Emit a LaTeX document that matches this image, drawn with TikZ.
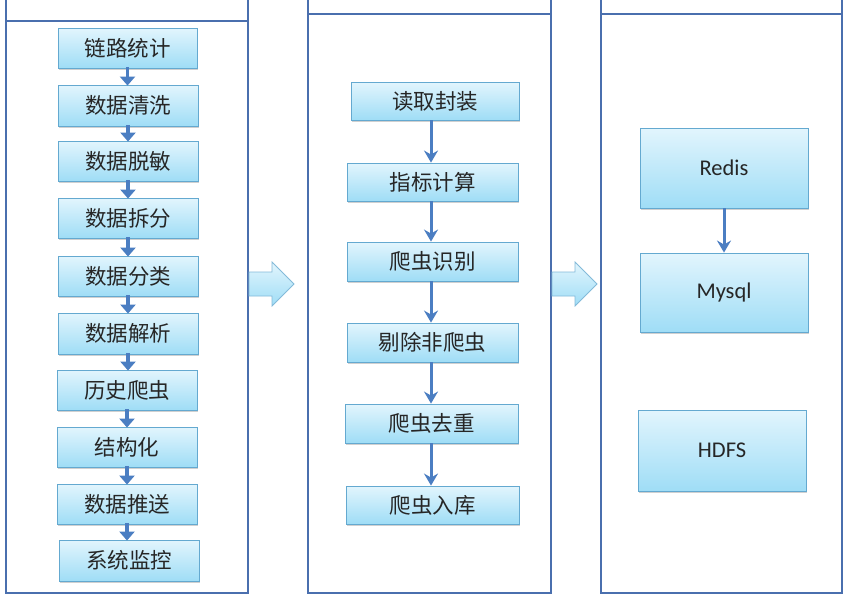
\documentclass[tikz,border=0pt]{standalone}
\usepackage{fontspec}
\setmainfont{Carlito}
\newfontfamily\cjk{Noto Sans CJK SC}
\usetikzlibrary{arrows.meta,shadows}
\definecolor{panelc}{HTML}{4A6FAE}
\definecolor{boxtop}{HTML}{E2F5FD}
\definecolor{boxbot}{HTML}{9FDDF6}
\definecolor{boxdraw}{HTML}{64A9D0}
\definecolor{arrc}{HTML}{4B7EC2}
\definecolor{txtc}{HTML}{262626}
\tikzset{
  panel/.style={draw=panelc, line width=2.2pt},
  stepbox/.style={draw=boxdraw, line width=0.9pt, top color=boxtop, bottom color=boxbot,
    drop shadow={shadow xshift=1.2pt, shadow yshift=-1.8pt, opacity=0.3, fill=black!60},
    text=txtc, inner sep=0pt},
  cnlabel/.style={font=\cjk\fontsize{21.5}{24}\selectfont},
  enlabel/.style={font=\fontsize{22.5}{25}\selectfont},
  shortarr/.style={draw=arrc, line width=3.5pt, -{Triangle[width=15pt,length=9pt]}, shorten >=-1pt, shorten <=-1pt},
  longarr/.style={draw=arrc, line width=3pt, -{Stealth[width=14pt,length=12pt,inset=4pt]}},
  blockarr/.style={draw=boxdraw!80, line width=0.8pt, top color=boxtop, bottom color=boxbot}
}
\begin{document}
\begin{tikzpicture}[x=1pt,y=-1pt]
\useasboundingbox (0,0) rectangle (850,595);
\fill[white] (0,0) rectangle (850,595);
% panels
\draw[panel] (6,-5) rectangle (248,21);
\draw[panel] (6,21) rectangle (248,593);
\draw[panel] (308,-5) rectangle (551,14);
\draw[panel] (308,14) rectangle (551,593);
\draw[panel] (601,-5) rectangle (842,14);
\draw[panel] (601,14) rectangle (842,593);
% block arrows
\path[blockarr] (249,272) -- (272,272) -- (272,262) -- (294,284) -- (272,306) -- (272,296) -- (249,296) -- cycle;
\path[blockarr] (552,272) -- (575,272) -- (575,262) -- (597,284) -- (575,306) -- (575,296) -- (552,296) -- cycle;
% left column
\node[stepbox, cnlabel, minimum width=139pt, minimum height=40pt] (l1) at (127.5,48) {链路统计};
\node[stepbox, cnlabel, minimum width=140pt, minimum height=41pt] (l2) at (128,105.5) {数据清洗};
\node[stepbox, cnlabel, minimum width=140pt, minimum height=40pt] (l3) at (128,161) {数据脱敏};
\node[stepbox, cnlabel, minimum width=140pt, minimum height=40pt] (l4) at (128,218) {数据拆分};
\node[stepbox, cnlabel, minimum width=140pt, minimum height=40pt] (l5) at (128,276) {数据分类};
\node[stepbox, cnlabel, minimum width=140pt, minimum height=41pt] (l6) at (128,333.5) {数据解析};
\node[stepbox, cnlabel, minimum width=140pt, minimum height=40pt] (l7) at (127,390) {历史爬虫};
\node[stepbox, cnlabel, minimum width=140pt, minimum height=40pt] (l8) at (127,447) {结构化};
\node[stepbox, cnlabel, minimum width=140pt, minimum height=40pt] (l9) at (127,504) {数据推送};
\node[stepbox, cnlabel, minimum width=140pt, minimum height=41pt] (l10) at (129,560.5) {系统监控};
\foreach \a/\b in {l1/l2,l2/l3,l3/l4,l4/l5,l5/l6,l6/l7,l7/l8,l8/l9,l9/l10}
  \draw[shortarr] (\a.south) -- (\a.south |- \b.north);
% middle column
\node[stepbox, cnlabel, minimum width=168pt, minimum height=38pt] (m1) at (435,101) {读取封装};
\node[stepbox, cnlabel, minimum width=171pt, minimum height=38pt] (m2) at (432.5,182) {指标计算};
\node[stepbox, cnlabel, minimum width=171pt, minimum height=39pt] (m3) at (432.5,261.5) {爬虫识别};
\node[stepbox, cnlabel, minimum width=171pt, minimum height=39pt] (m4) at (432.5,342.5) {剔除非爬虫};
\node[stepbox, cnlabel, minimum width=173pt, minimum height=39pt] (m5) at (431.5,423.5) {爬虫去重};
\node[stepbox, cnlabel, minimum width=173pt, minimum height=38pt] (m6) at (432.5,505) {爬虫入库};
\foreach \a/\b in {m1/m2,m2/m3,m3/m4,m4/m5,m5/m6}
  \draw[longarr] (431,0 |- \a.south) -- (431,0 |- \b.north);
% right column
\node[stepbox, enlabel, minimum width=168pt, minimum height=80pt] (r1) at (724,168) {Redis};
\node[stepbox, enlabel, minimum width=168pt, minimum height=79pt] (r2) at (724,292.5) {Mysql};
\node[stepbox, enlabel, minimum width=168pt, minimum height=81pt] (r3) at (722,450.5) {HDFS};
\draw[longarr] (r1.south) -- (r2.north);
\end{tikzpicture}
\end{document}
